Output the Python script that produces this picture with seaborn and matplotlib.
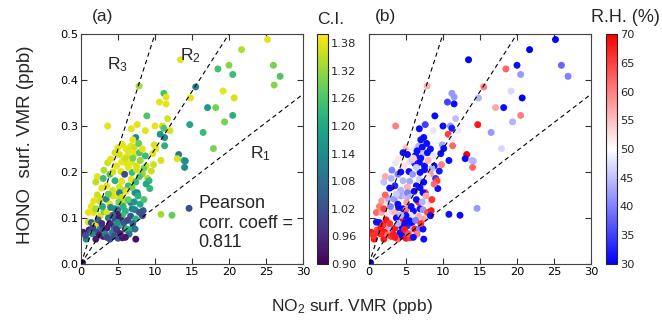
import matplotlib
matplotlib.use("Agg")
import matplotlib.pyplot as plt
import numpy as np
import pandas as pd
import seaborn as sns
from matplotlib.colors import Normalize
from matplotlib.cm import ScalarMappable

# ---------------- data ----------------
no2 = [
    25.2, 21.7, 13.45, 20.0, 18.5, 20.5, 26.0, 26.9, 26.1, 7.85, 15.5, 11.2, 19.2, 14.8, 20.7, 11.5, 10.6, 11.5,
    17.1, 18.2, 20.5, 8.9, 11.7, 3.6, 10.0, 11.0, 11.2, 14.7, 19.4, 16.5, 12.0, 6.8, 8.7, 7.6, 7.4, 10.7, 11.3,
    11.3, 9.9, 10.1, 17.9, 13.2, 9.7, 10.8, 13.0, 13.9, 14.1, 14.0, 14.6, 10.8, 12.3, 0.2,
    5.0, 6.1, 6.7, 7.2, 7.8,
    5.2, 6.3, 7.3, 7.9, 8.7, 5.5, 6.8, 7.5, 6.2, 8.0, 5.8,
    2.2, 3.0, 3.9, 4.3, 4.8, 5.4, 5.9, 6.9, 7.5, 8.3, 8.8, 9.5, 9.0, 6.4,
    2.8, 3.5, 4.6, 5.5, 5.2, 6.4, 6.8, 7.4, 9.2, 9.3, 7.6, 4.3, 6.0,
    1.7, 2.5, 2.6, 3.4, 3.9, 4.3, 4.9, 5.2, 5.5, 5.1, 5.9, 6.1, 6.7, 7.3, 7.7,
    1.0, 1.7, 2.6, 3.1, 3.5, 4.0, 4.6, 5.0, 4.9, 6.0, 6.9, 7.3, 7.9, 8.4, 8.3, 6.7, 7.4, 5.6,
    1.0, 1.4, 1.1, 1.9, 2.6, 3.0, 3.5, 4.3, 4.4, 4.6, 5.0, 5.5, 5.2, 5.8, 6.0, 6.2, 6.8, 7.3, 2.1, 1.2, 0.3,
    0.7, 1.5, 2.0, 2.5, 3.0, 3.3, 3.9, 4.2, 4.5, 5.0, 5.6, 7.4, 6.5,
    3.1, 3.6, 2.0, 4.0, 4.6, 5.6, 6.5, 7.0, 6.0, 7.0, 8.3, 8.5, 9.8, 8.8, 7.9, 3.7, 2.2, 1.4, 2.0, 2.9,
    3.7, 4.3, 5.7, 6.4, 6.3, 7.0, 2.3, 2.8, 3.9, 1.6, 0.6, 4.8, 5.3, 6.0, 3.5, 4.9, 8.0, 8.5, 7.2, 6.9,
]
hono = [
    0.488, 0.466, 0.444, 0.432, 0.424, 0.412, 0.432, 0.408, 0.389, 0.387, 0.385, 0.371, 0.376, 0.361, 0.361, 0.363, 0.352, 0.348,
    0.340, 0.340, 0.323, 0.322, 0.316, 0.300, 0.300, 0.300, 0.295, 0.303, 0.309, 0.286, 0.290, 0.294, 0.290, 0.303, 0.275, 0.282, 0.275,
    0.257, 0.259, 0.251, 0.251, 0.238, 0.240, 0.225, 0.229, 0.225, 0.224, 0.210, 0.121, 0.108, 0.106, 0.003,
    0.253, 0.250, 0.256, 0.254, 0.262,
    0.238, 0.236, 0.240, 0.242, 0.235, 0.222, 0.221, 0.213, 0.218, 0.225, 0.226,
    0.190, 0.186, 0.195, 0.200, 0.213, 0.201, 0.195, 0.199, 0.205, 0.196, 0.213, 0.202, 0.186, 0.210,
    0.165, 0.170, 0.181, 0.180, 0.167, 0.170, 0.184, 0.178, 0.181, 0.164, 0.155, 0.160, 0.160,
    0.137, 0.137, 0.142, 0.141, 0.130, 0.148, 0.148, 0.155, 0.145, 0.134, 0.137, 0.158, 0.134, 0.155, 0.148,
    0.112, 0.112, 0.105, 0.114, 0.112, 0.123, 0.120, 0.118, 0.108, 0.115, 0.120, 0.118, 0.112, 0.116, 0.105, 0.104, 0.098, 0.106,
    0.091, 0.090, 0.074, 0.085, 0.076, 0.076, 0.078, 0.069, 0.082, 0.097, 0.105, 0.094, 0.083, 0.090, 0.076, 0.076, 0.076, 0.076, 0.069, 0.069, 0.069,
    0.054, 0.066, 0.054, 0.063, 0.060, 0.065, 0.054, 0.068, 0.061, 0.056, 0.057, 0.054, 0.065,
    0.204, 0.220, 0.178, 0.228, 0.242, 0.260, 0.246, 0.270, 0.230, 0.230, 0.250, 0.208, 0.216, 0.174, 0.190, 0.152, 0.150, 0.125, 0.120, 0.125,
    0.100, 0.106, 0.125, 0.140, 0.095, 0.088, 0.096, 0.088, 0.088, 0.078, 0.062, 0.075, 0.066, 0.058, 0.058, 0.090, 0.130, 0.140, 0.135, 0.166,
]
ci = [
    1.38, 1.34, 1.38, 1.31, 1.25, 1.24, 1.30, 1.26, 1.31, 1.33, 1.12, 1.25, 1.38, 1.38, 1.37, 1.38, 1.38, 1.38,
    1.17, 1.30, 1.22, 1.26, 1.37, 1.38, 1.38, 1.37, 1.26, 1.20, 1.30, 1.24, 1.37, 1.38, 1.38, 1.38, 1.12, 1.16, 1.13,
    1.22, 1.37, 1.38, 1.30, 1.10, 1.38, 1.37, 1.37, 1.22, 1.14, 1.14, 1.02, 1.33, 1.28, 0.93,
    1.38, 1.38, 1.38, 1.36, 1.28,
    1.37, 1.38, 1.38, 1.26, 1.24, 1.38, 1.38, 1.37, 1.38, 1.32, 1.38,
    1.38, 1.24, 1.26, 1.37, 1.38, 1.38, 1.02, 1.24, 1.37, 1.32, 1.37, 1.36, 1.34, 1.38,
    1.38, 1.38, 1.22, 1.38, 1.37, 1.24, 1.38, 1.24, 1.23, 1.23, 1.14, 1.37, 1.30,
    1.38, 1.37, 1.36, 1.12, 1.38, 1.37, 1.38, 1.12, 1.36, 1.30, 1.34, 1.38, 1.12, 1.13, 1.22,
    1.38, 1.38, 1.37, 1.30, 1.38, 1.13, 1.14, 1.10, 0.94, 1.22, 1.12, 1.12, 1.03, 1.03, 1.02, 1.03, 1.22, 1.24,
    1.37, 1.04, 0.93, 1.37, 1.12, 1.02, 0.94, 1.14, 1.05, 1.02, 0.93, 0.94, 1.22, 1.04, 0.93, 1.22, 1.22, 1.10, 1.02, 1.02, 0.93,
    1.12, 1.14, 0.94, 0.93, 0.94, 1.12, 1.03, 1.12, 1.02, 1.03, 0.93, 0.92, 1.10,
    1.34, 1.36, 1.35, 1.38, 1.37, 1.38, 1.38, 1.38, 1.36, 1.30, 1.38, 1.30, 1.36, 1.20, 1.26, 1.28, 1.36, 1.38, 1.33, 1.20,
    1.10, 1.05, 1.22, 1.28, 1.00, 1.06, 1.05, 0.96, 0.95, 1.00, 1.02, 0.98, 0.95, 0.93, 1.00, 1.15, 1.20, 1.26, 1.16, 1.30,
]
rh = [
    30, 30, 30, 31, 62, 42, 38, 40, 50, 56, 60, 42, 47, 44, 30, 42, 35, 31,
    57, 31, 60, 31, 45, 60, 31, 42, 32, 68, 44, 42, 48, 31, 48, 35, 31, 65, 49,
    62, 43, 31, 47, 70, 31, 31, 31, 44, 44, 62, 42, 31, 31, 30,
    55, 48, 44, 31, 31,
    31, 31, 45, 31, 48, 53, 31, 31, 32, 56, 46,
    57, 44, 40, 31, 52, 31, 42, 31, 31, 58, 31, 32, 34, 46,
    31, 33, 44, 43, 56, 31, 46, 31, 65, 31, 66, 44, 52,
    58, 54, 44, 42, 31, 43, 45, 40, 44, 58, 50, 31, 66, 31, 57,
    62, 57, 52, 47, 56, 31, 31, 60, 66, 31, 31, 42, 64, 68, 31, 56, 57, 48,
    31, 31, 64, 66, 58, 44, 68, 60, 31, 68, 31, 31, 33, 31, 44, 68, 40, 31, 68, 66, 68,
    68, 67, 68, 62, 66, 68, 62, 31, 31, 68, 66, 31, 60,
    40, 48, 45, 52, 31, 50, 31, 31, 54, 31, 31, 44, 60, 62, 52, 46, 62, 60, 65, 40,
    31, 44, 31, 31, 40, 66, 68, 66, 44, 68, 66, 68, 64, 31, 68, 31, 52, 66, 44, 31,
]
ratio_slopes = [0.0123, 0.025, 0.05]
ratio_names = ["R$_1$", "R$_2$", "R$_3$"]
pearson_r = 0.811
ci_ticks = [0.90, 0.96, 1.02, 1.08, 1.14, 1.20, 1.26, 1.32, 1.38]
rh_ticks = [30, 35, 40, 45, 50, 55, 60, 65, 70]

df = pd.DataFrame({"NO2": no2, "HONO": hono, "CI": ci, "RH": rh})

# ---------------- style ----------------
sns.set_style("white")
plt.rcParams["font.family"] = ["Liberation Sans", "DejaVu Sans"]
plt.rcParams["mathtext.fontset"] = "custom"
plt.rcParams["mathtext.rm"] = "Liberation Sans"
plt.rcParams["mathtext.it"] = "Liberation Sans:italic"

W, H = 662, 320
fig = plt.figure(figsize=(W / 100, H / 100), dpi=100)

def px_axes(l, t, r, b):
    return fig.add_axes([l / W, 1 - b / H, (r - l) / W, (b - t) / H])

ax_a = px_axes(81, 34, 303, 264)
cb_a = px_axes(317, 34, 328, 264)
ax_b = px_axes(369, 34, 591, 264)
cb_b = px_axes(606, 34, 617, 264)

ci_norm = Normalize(0.90, 1.40)
rh_norm = Normalize(30, 70)

sns.scatterplot(data=df, x="NO2", y="HONO", hue="CI", palette="viridis", hue_norm=ci_norm,
                s=25, linewidth=0, legend=False, ax=ax_a, zorder=2)
sns.scatterplot(data=df, x="NO2", y="HONO", hue="RH", palette="bwr", hue_norm=rh_norm,
                s=25, linewidth=0, legend=False, ax=ax_b, zorder=2)

TICK_FS = 8.2
xs = np.array([0, 30])
for ax in (ax_a, ax_b):
    for sl in ratio_slopes:
        ax.plot(xs, sl * xs, ls=(0, (4, 3)), color="black", lw=0.8, zorder=3)
    ax.set_xlim(0, 30)
    ax.set_ylim(0, 0.5)
    ax.set_xticks([0, 5, 10, 15, 20, 25, 30])
    ax.set_yticks([0.0, 0.1, 0.2, 0.3, 0.4, 0.5])
    ax.tick_params(direction="in", length=4, width=0.8, top=True, right=True,
                   bottom=True, left=True, labelsize=TICK_FS, pad=2, colors="#333333", labelcolor="black")
    for lab in ax.get_xticklabels() + ax.get_yticklabels():
        lab.set_fontfamily("DejaVu Sans")
    ax.set_xlabel("")
    ax.set_ylabel("")
    for sp in ax.spines.values():
        sp.set_color("#444444")
        sp.set_linewidth(0.8)
ax_b.set_yticklabels([])

ax_a.text(4.9, 0.433, ratio_names[2], fontsize=12.5, ha="center", va="center")
ax_a.text(14.8, 0.452, ratio_names[1], fontsize=12.5, ha="center", va="center")
ax_a.text(24.3, 0.24, ratio_names[0], fontsize=12.5, ha="center", va="center")
ax_a.text(15.9, 0.150, "Pearson\ncorr. coeff =\n" + f"{pearson_r:.3f}", fontsize=13,
          ha="left", va="top", linespacing=1.2)

ax_a.text(0.05, 1.075, "(a)", transform=ax_a.transAxes, fontsize=12.5, ha="left", va="center")
ax_b.text(0.025, 1.075, "(b)", transform=ax_b.transAxes, fontsize=12.5, ha="left", va="center")

fig.text(26 / W, 1 - 145 / H, "HONO  surf. VMR (ppb)", rotation=90, fontsize=13.5,
         ha="center", va="center")
fig.text(352 / W, 1 - 306 / H, "NO$_2$ surf. VMR (ppb)", fontsize=12.5, ha="center", va="center")

# colorbars
c1 = fig.colorbar(ScalarMappable(norm=ci_norm, cmap="viridis"), cax=cb_a)
c1.set_ticks(ci_ticks)
c1.set_ticklabels([f"{v:.2f}" for v in ci_ticks])
c2 = fig.colorbar(ScalarMappable(norm=rh_norm, cmap="bwr"), cax=cb_b)
c2.set_ticks(rh_ticks)
for c in (c1, c2):
    c.outline.set_linewidth(0.8)
    c.ax.tick_params(direction="in", length=3, width=0.6, labelsize=TICK_FS, pad=2)
    for lab in c.ax.get_yticklabels():
        lab.set_fontfamily("DejaVu Sans")

fig.text(331 / W, 1 - 20 / H, "C.I.", fontsize=12.5, ha="center", va="center")
fig.text(625 / W, 1 - 18 / H, "R.H. (%)", fontsize=13, ha="center", va="center")

fig.savefig("out.png", dpi=100)
